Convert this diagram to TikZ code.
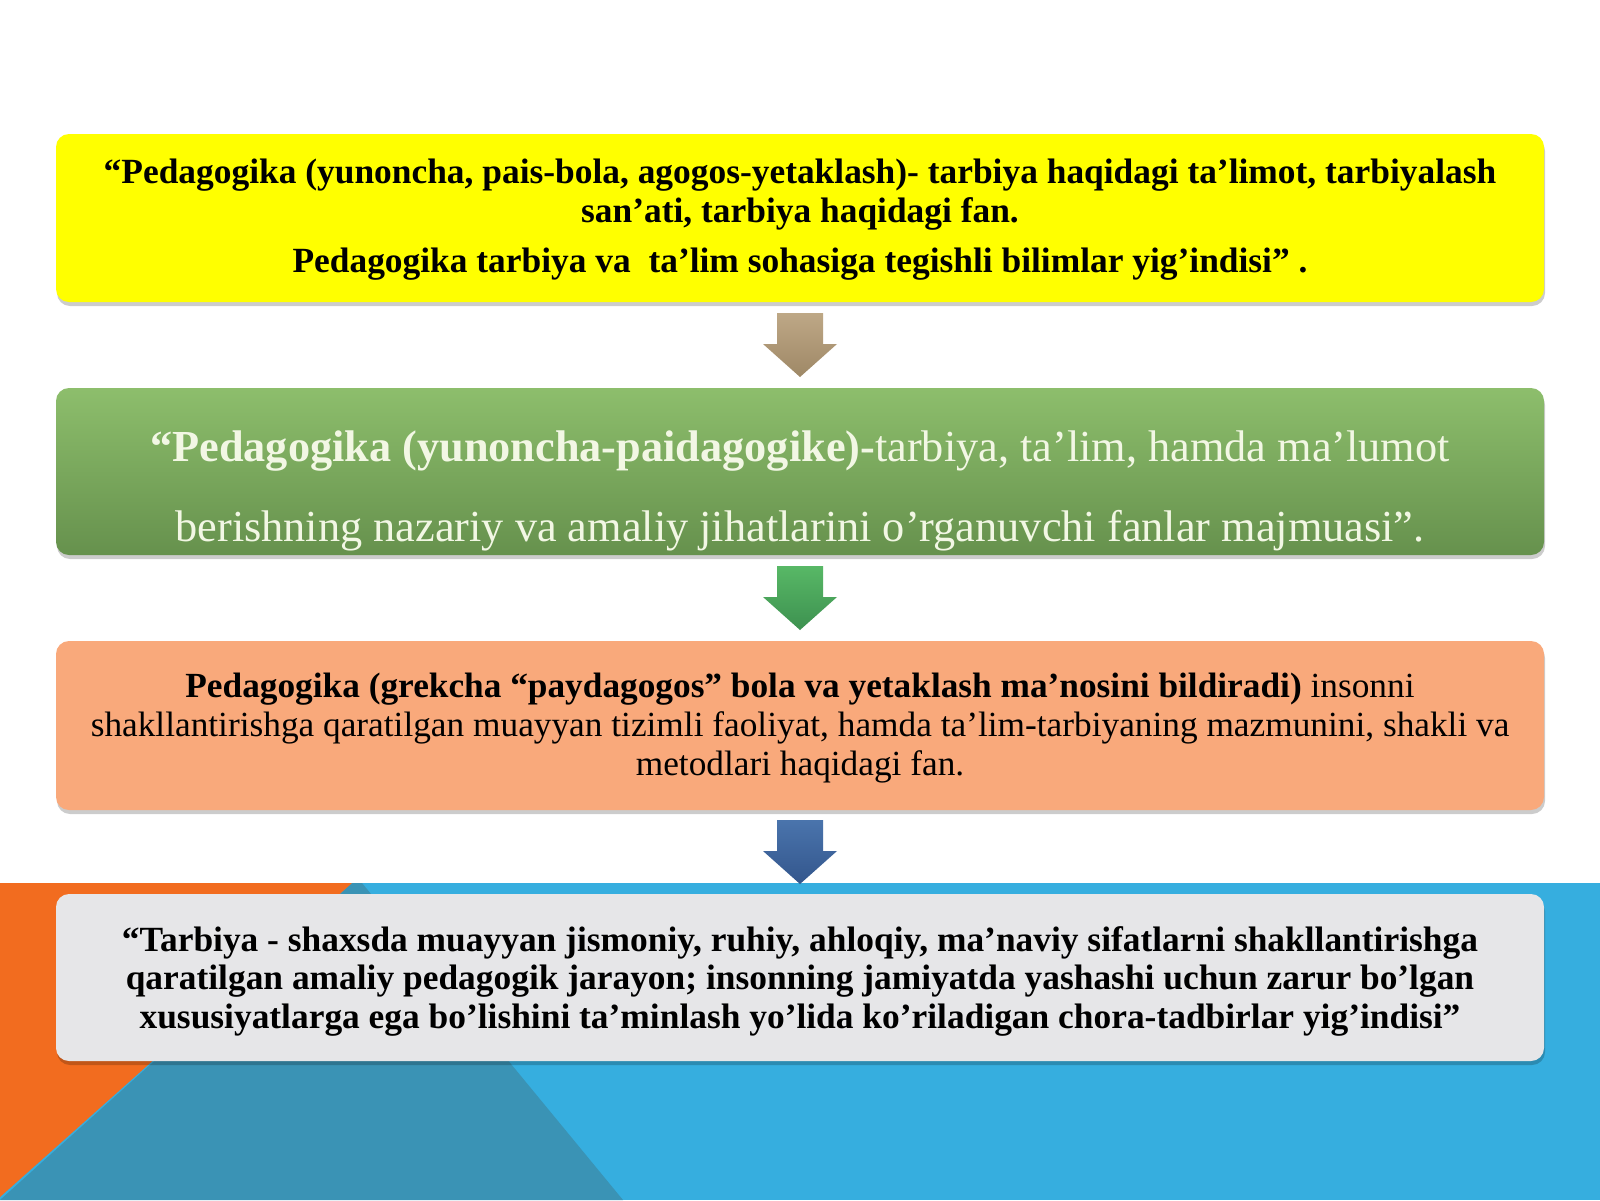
\documentclass[tikz,border=0pt]{standalone}
\usepackage{fontspec}
\setmainfont{Liberation Serif}
\usetikzlibrary{calc,shadows}
\definecolor{orangeBG}{HTML}{F26C1F}
\definecolor{darkBlue}{HTML}{3A93B5}
\definecolor{lightBlue}{HTML}{36AEDF}
\definecolor{yellowBox}{HTML}{FFFF00}
\definecolor{greenTop}{HTML}{8DBE6C}
\definecolor{greenBot}{HTML}{66914D}
\definecolor{salmonBox}{HTML}{F9A97B}
\definecolor{grayBox}{HTML}{E6E6E8}
\definecolor{greenText}{HTML}{F2F7E4}
\definecolor{tanTop}{HTML}{BEA886}
\definecolor{tanBot}{HTML}{9E8866}
\definecolor{grnArTop}{HTML}{58B866}
\definecolor{grnArBot}{HTML}{3D9150}
\definecolor{bluArTop}{HTML}{4A74AC}
\definecolor{bluArBot}{HTML}{33568C}
\tikzset{
  box/.style={rectangle, rounded corners=13pt, minimum width=1488pt, minimum height=168pt,
    inner sep=0pt, draw=none,
    drop shadow={shadow xshift=1pt, shadow yshift=-4pt, opacity=0.2, fill=black}},
  txt/.style={inner sep=0pt, align=center, text=black},
  blockarrow/.style={draw=none}
}
\newcommand{\blockarr}[3]{%
  \path[blockarrow, top color=#2, bottom color=#3]
    ($(#1)+(-23,-32)$) -- ($(#1)+(23,-32)$) -- ($(#1)+(23,-1)$) -- ($(#1)+(37,-1)$)
    -- ($(#1)+(0,32)$) -- ($(#1)+(-37,-1)$) -- ($(#1)+(-23,-1)$) -- cycle;}
\begin{document}
\begin{tikzpicture}[x=1pt,y=-1pt]
\useasboundingbox[fill=white] (0,0) rectangle (1600,1200);
% background band
\fill[lightBlue] (0,883) rectangle (1600,1200);
\fill[darkBlue] (352,883) -- (362,883) -- (623,1200) -- (0,1200) -- cycle;
\fill[orangeBG] (0,883) -- (352,883) -- (0,1197) -- cycle;

% boxes
\node[box, fill=yellowBox] (b1) at (800,218) {};
\node[box, top color=greenTop, bottom color=greenBot, minimum height=167pt] (b2) at (800,471.5) {};
\node[box, fill=salmonBox, minimum height=169pt] (b3) at (800,725.5) {};
\node[box, fill=grayBox, minimum height=167pt] (b4) at (800,977.5) {};

% texts
\node[txt, font=\fontsize{35.4}{39}\selectfont\bfseries] (t1) at (800,220)
  {“Pedagogika (yunoncha, pais-bola, agogos-yetaklash)- tarbiya haqidagi ta’limot, tarbiyalash\\
   san’ati, tarbiya haqidagi fan.\\[11pt]
   Pedagogika tarbiya va\ \ ta’lim sohasiga tegishli bilimlar yig’indisi” .};
\node[txt, text=greenText, font=\fontsize{44.3}{80}\selectfont] (t2) at (800,491)
  {\textbf{“Pedagogika (yunoncha-paidagogike)-}tarbiya, ta’lim, hamda ma’lumot\\
   berishning nazariy va amaliy jihatlarini o’rganuvchi fanlar majmuasi”.};
\node[txt, font=\fontsize{35.3}{39}\selectfont] (t3) at (800,728)
  {\textbf{Pedagogika (grekcha “paydagogos” bola va yetaklash ma’nosini bildiradi)} insonni\\
   shakllantirishga qaratilgan muayyan tizimli faoliyat, hamda ta’lim-tarbiyaning mazmunini, shakli va\\
   metodlari haqidagi fan.};
\node[txt, font=\fontsize{35.4}{38.5}\selectfont\bfseries] (t4) at (800,981)
  {“Tarbiya - shaxsda muayyan jismoniy, ruhiy, ahloqiy, ma’naviy sifatlarni shakllantirishga\\
   qaratilgan amaliy pedagogik jarayon; insonning jamiyatda yashashi uchun zarur bo’lgan\\
   xususiyatlarga ega bo’lishini ta’minlash yo’lida ko’riladigan chora-tadbirlar yig’indisi”};

% block arrows between boxes
\coordinate (a1) at ($(b1.south)!0.5!(b2.north)$);
\coordinate (a2) at ($(b2.south)!0.5!(b3.north)$);
\coordinate (a3) at ($(b3.south)!0.5!(b4.north)$);
\blockarr{a1}{tanTop}{tanBot}
\blockarr{a2}{grnArTop}{grnArBot}
\blockarr{a3}{bluArTop}{bluArBot}
\end{tikzpicture}
\end{document}
